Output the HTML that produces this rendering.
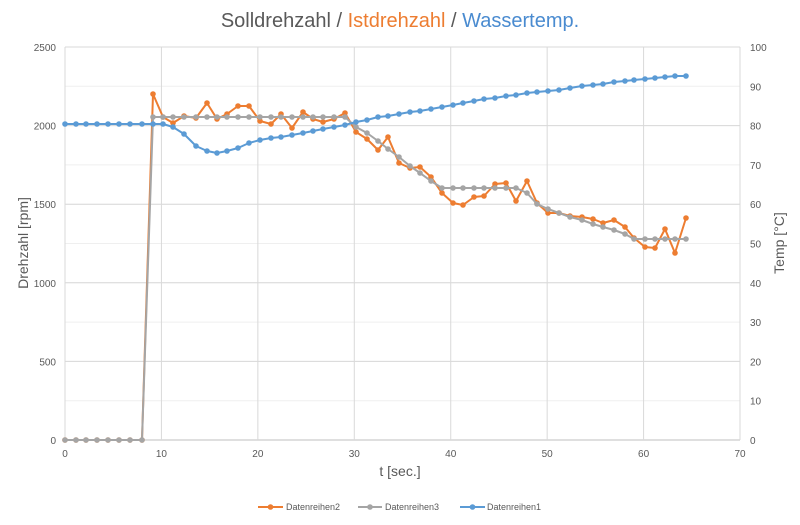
<!DOCTYPE html>
<html><head><meta charset="utf-8"><style>
html,body{margin:0;padding:0;background:#fff}
svg text{font-family:"Liberation Sans",sans-serif;fill:#595959}
</style></head><body>
<svg id="c" width="800" height="520" viewBox="0 0 800 520" xmlns="http://www.w3.org/2000/svg">
<rect width="800" height="520" fill="#fff"/>
<g id="grid"></g>
<text x="400" y="27" text-anchor="middle" font-size="20"><tspan fill="#595959">Solldrehzahl / </tspan><tspan fill="#ED7D31" style="fill:#ED7D31">Istdrehzahl</tspan><tspan> / </tspan><tspan style="fill:#4A8BD0">Wassertemp.</tspan></text>
<text transform="translate(28,243) rotate(-90)" text-anchor="middle" font-size="14">Drehzahl [rpm]</text>
<text transform="translate(784,243) rotate(-90)" text-anchor="middle" font-size="14">Temp [°C]</text>
<text x="400" y="476" text-anchor="middle" font-size="14">t [sec.]</text>
<g id="series"></g>
<g font-size="9">
<line x1="258" y1="507" x2="283" y2="507" stroke="#ED7D31" stroke-width="2"/><circle cx="270.5" cy="507" r="2.8" fill="#ED7D31"/><text x="286" y="510">Datenreihen2</text>
<line x1="358" y1="507" x2="382" y2="507" stroke="#A5A5A5" stroke-width="2"/><circle cx="370" cy="507" r="2.8" fill="#A5A5A5"/><text x="385" y="510">Datenreihen3</text>
<line x1="460" y1="507" x2="485" y2="507" stroke="#5B9BD5" stroke-width="2"/><circle cx="472.5" cy="507" r="2.8" fill="#5B9BD5"/><text x="487" y="510">Datenreihen1</text>
</g>
</svg>
<script>
var ns="http://www.w3.org/2000/svg";
function el(p,t,a,txt){var e=document.createElementNS(ns,t);for(var k in a)e.setAttribute(k,a[k]);if(txt!==undefined)e.textContent=txt;p.appendChild(e);return e;}
var g=document.getElementById('grid');
// right-axis faint grid
for(var i=0;i<=10;i++){var y=440-i*39.3;el(g,'line',{x1:65,x2:740,y1:y,y2:y,stroke:'#efefef','stroke-width':1});}
for(var i=0;i<=5;i++){var y=440-i*78.6;el(g,'line',{x1:65,x2:740,y1:y,y2:y,stroke:i==0?'#bfbfbf':'#d9d9d9','stroke-width':1});
 el(g,'text',{x:56,y:y+4,'text-anchor':'end','font-size':10},String(i*500));}
for(var i=0;i<=10;i++){var y=440-i*39.3;el(g,'text',{x:750,y:y+4,'font-size':10},String(i*10));}
for(var i=0;i<=7;i++){var x=65+i*96.43;el(g,'line',{x1:x,x2:x,y1:47,y2:440,stroke:'#d9d9d9','stroke-width':1});
 el(g,'text',{x:x,y:457,'text-anchor':'middle','font-size':10},String(i*10));}
var zx=[65,76,86,97,108,119,130,142];
var xs=[153,163,173,184,196,207,217,227,238,249,260,271,281,292,303,313,323,334,345,356,367,378,388,399,410,420,431,442,453,463,474,484,495,506,516,527,537,548,559,570,582,593,603,614,625,634,645,655,665,675,686];
var oy=[94,117,123,116,118,103,119,114,106,106,121,124,114,128,112,119,122,119,113,132,139,150,137,163,168,167,177,193,203,205,197,196,184,183,201,181,203,213,213,216,217,219,223,220,227,238,247,248,229,253,218];
var gy=[117,117,117,117,117,117,117,117,117,117,117,117,117,117,117,117,117,117,117,127,133,141,149,157,166,173,181,188,188,188,188,188,188,188,188,193,204,209,213,217,220,224,227,230,234,239,239,239,239,239,239];
var by=[124,124,127,134,146,151,153,151,148,143,140,138,137,135,133,131,129,127,125,122,120,117,116,114,112,111,109,107,105,103,101,99,98,96,95,93,92,91,90,88,86,85,84,82,81,80,79,78,77,76,76];
function series(px,py,col){var s=document.getElementById('series');var d='';for(var i=0;i<px.length;i++)d+=(i?'L':'M')+px[i]+' '+py[i];
 el(s,'path',{d:d,fill:'none',stroke:col,'stroke-width':2,'stroke-linejoin':'round'});
 for(var i=0;i<px.length;i++)el(s,'circle',{cx:px[i],cy:py[i],r:2.8,fill:col});}
var z=zx.map(function(){return 440;});
var bz=zx.map(function(){return 124;});
series(zx.concat(xs),z.concat(oy),'#ED7D31');
series(zx.concat(xs),z.concat(gy),'#A5A5A5');
series(zx.concat(xs),bz.concat(by),'#5B9BD5');
</script>
</body></html>
